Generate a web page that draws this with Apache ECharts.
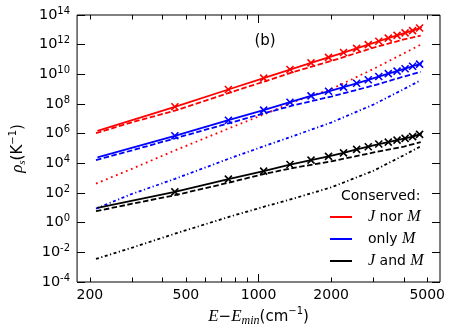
<!DOCTYPE html>
<html>
<head>
<meta charset="utf-8">
<script src="https://cdn.jsdelivr.net/npm/echarts@6/dist/echarts.min.js"></script>
<style>
html,body{margin:0;padding:0;background:#fff;}
#chart{width:452px;height:333px;}
</style>
</head>
<body>
<div id="chart"></div>
<script>
// E - Emin (cm^-1) where the solid curves are drawn, ends + the x marks
var eSolid = [215, 450, 750, 1050, 1350, 1650, 1950, 2250, 2550, 2850, 3150, 3450, 3750, 4050, 4350, 4650, 4750];
var redSolid = [1.55e6, 6.5e7, 9.5e8, 5.5e9, 2.1e10, 5.9e10, 1.4e11, 2.95e11, 5.6e11, 1.0e12, 1.7e12, 2.75e12, 4.2e12, 6.2e12, 8.9e12, 1.32e13, 1.5e13];
var blueSolid = [2.5e4, 7.2e5, 8.1e6, 3.9e7, 1.32e8, 3.55e8, 7.2e8, 1.38e9, 2.5e9, 4.3e9, 7.1e9, 1.12e10, 1.66e10, 2.4e10, 3.5e10, 4.9e10, 5.5e10];
var blackSolid = [9.8, 120, 870, 3.0e3, 8.3e3, 1.66e4, 2.95e4, 5.1e4, 8.7e4, 1.32e5, 2.0e5, 2.7e5, 3.7e5, 4.8e5, 6.3e5, 8.9e5, 1.0e6];

// dashed and dash-dot curves
var eCurve = [212, 300, 450, 750, 1050, 1400, 2000, 3000, 4000, 4700];
var redDashed = [1.07e6, 6.0e6, 3.55e7, 5.5e8, 3.16e9, 1.48e10, 7.9e10, 6.3e11, 2.24e12, 4.0e12];
var blueDashed = [1.66e4, 7.6e4, 4.8e5, 5.0e6, 2.3e7, 8.3e7, 3.16e8, 1.78e9, 7.1e9, 1.48e10];
var blackDashed = [5.9, 19, 71, 490, 1.9e3, 5.0e3, 1.35e4, 5.4e4, 1.35e5, 2.7e5];
var redDotted = [430, 4.4e3, 7.4e4, 2.2e6, 1.95e7, 1.4e8, 1.0e9, 2.35e10, 2.6e11, 1.0e12];
var blueDotted = [8.9, 89, 890, 2.0e4, 1.4e5, 7.1e5, 5.6e6, 9.3e7, 1.0e9, 4.0e9];
var blackDotted = [3.6e-3, 2.1e-2, 0.18, 2.4, 11.7, 43, 240, 3.2e3, 3.5e4, 1.4e5];

var xLabels = [200, 500, 1000, 2000, 5000];
var xMinorTicks = [200, 300, 400, 500, 600, 700, 800, 900, 2000, 3000, 4000, 5000];
var xMajorTicks = [1000];
var xRange = [177, 5650];
var yRange = [1e-4, 1e14];
var legendNames = ['J nor M', 'only M', 'J and M'];

var lg = Math.log10;
var crossPath = 'path://M0,0L10,10M10,0L0,10';
var sans = 'DejaVu Sans';
var serif = 'Liberation Serif';

function solidSeries(name, color, vals){
	return {
		name: name,
		type: 'line',
		data: eSolid.map(function(e, i){
			var end = (i == 0 || i == eSolid.length - 1);
			return {value: [lg(e), vals[i]], symbol: end ? 'none' : crossPath};
		}),
		symbolSize: 7,
		showSymbol: true,
		lineStyle: {color: color, width: 1.8},
		itemStyle: {color: color, borderColor: color, borderWidth: 1.6},
		emphasis: {disabled: true},
		z: 4
	};
}
function curveSeries(color, vals, dash){
	return {
		type: 'line',
		data: eCurve.map(function(e, i){ return [lg(e), vals[i]]; }),
		showSymbol: false,
		symbol: 'none',
		lineStyle: {color: color, width: 1.8, type: dash},
		emphasis: {disabled: true},
		z: 3
	};
}

var dashed = [5.5, 2.5];
var dashDot = [3, 2.5, 1.2, 2.5];
var dotted = [1.8, 3.6];

function xAxisOf(pos, ticks, len, labels){
	return {
		type: 'value',
		position: pos,
		min: lg(xRange[0]),
		max: lg(xRange[1]),
		axisLine: {show: false},
		splitLine: {show: false},
		axisTick: {show: true, inside: true, length: len, customValues: ticks.map(lg), lineStyle: {color: '#000', width: 1}},
		axisLabel: labels ? {
			show: true,
			customValues: labels.map(lg),
			margin: 6,
			color: '#000',
			fontFamily: sans,
			fontSize: 14,
			formatter: function(v){ return String(Math.round(Math.pow(10, v))); }
		} : {show: false}
	};
}
function yAxisOf(pos, labels){
	return {
		type: 'log',
		logBase: 10,
		position: pos,
		min: yRange[0],
		max: yRange[1],
		interval: 2,
		axisLine: {show: false},
		splitLine: {show: false},
		minorTick: {show: false},
		axisTick: {show: true, inside: true, length: 8, lineStyle: {color: '#000', width: 1}},
		axisLabel: labels ? {
			show: true,
			margin: 7,
			formatter: function(v){
				var n = Math.round(lg(v));
				return '{b|10}{s|' + n + '}';
			},
			rich: {
				b: {fontFamily: sans, fontSize: 14.5, lineHeight: 18, color: '#000'},
				s: {fontFamily: sans, fontSize: 10, lineHeight: 10, verticalAlign: 'top', color: '#000'}
			}
		} : {show: false}
	};
}

var chart = echarts.init(document.getElementById('chart'), null, {renderer: 'canvas'});

var yMain = yAxisOf('left', true);
yMain.name = '{i|ρ}{sub|s}(K{sup|−1})';
yMain.nameLocation = 'middle';
yMain.nameRotate = 90;
yMain.nameGap = 43;
yMain.nameTextStyle = {
	fontFamily: sans, fontSize: 15, color: '#000', lineHeight: 20,
	rich: {
		i: {fontFamily: serif, fontStyle: 'italic', fontSize: 17, lineHeight: 20, color: '#000'},
		sub: {fontFamily: serif, fontStyle: 'italic', fontSize: 11, lineHeight: 11, verticalAlign: 'bottom', color: '#000'},
		sup: {fontFamily: sans, fontSize: 10, lineHeight: 10, verticalAlign: 'top', color: '#000'}
	}
};

var xMain = xAxisOf('bottom', xMinorTicks, 4.5, xLabels);
xMain.name = '{i|E}−{i|E}{sub|min}(cm{sup|−1})';
xMain.nameLocation = 'middle';
xMain.nameGap = 24;
xMain.nameTextStyle = {
	fontFamily: sans, fontSize: 15, color: '#000', lineHeight: 20,
	rich: {
		i: {fontFamily: serif, fontStyle: 'italic', fontSize: 17, lineHeight: 20, color: '#000'},
		sub: {fontFamily: serif, fontStyle: 'italic', fontSize: 12, lineHeight: 12, verticalAlign: 'bottom', color: '#000'},
		sup: {fontFamily: sans, fontSize: 10, lineHeight: 10, verticalAlign: 'top', color: '#000'}
	}
};

var option = {
	animation: false,
	backgroundColor: '#fff',
	grid: {left: 69, right: 12, top: 15, bottom: 51, show: true, borderColor: '#000', borderWidth: 1, backgroundColor: 'transparent'},
	xAxis: [
		xMain,
		xAxisOf('bottom', xMajorTicks, 8, null),
		xAxisOf('top', xMinorTicks, 4.5, null),
		xAxisOf('top', xMajorTicks, 8, null)
	],
	yAxis: [yMain, yAxisOf('right', false)],
	legend: {
		data: legendNames,
		orient: 'vertical',
		left: 330,
		top: 208,
		padding: 0,
		itemGap: 4,
		itemWidth: 22,
		itemHeight: 2,
		icon: 'rect',
		itemStyle: {borderWidth: 0},
		selectedMode: false,
		formatter: function(name){ return name.replace(/([JM])/g, '{i|$1}'); },
		textStyle: {
			fontFamily: sans, fontSize: 14, color: '#000', lineHeight: 18, padding: [0, 0, 0, 11],
			rich: {i: {fontFamily: serif, fontStyle: 'italic', fontSize: 16, lineHeight: 18, color: '#000'}}
		}
	},
	graphic: [
		{type: 'text', x: 265, y: 41, style: {text: '(b)', font: '15px "DejaVu Sans"', fill: '#000', align: 'center', verticalAlign: 'middle'}},
		{type: 'text', x: 341, y: 196, style: {text: 'Conserved:', font: '14px "DejaVu Sans"', fill: '#000', align: 'left', verticalAlign: 'middle'}}
	],
	series: [
		curveSeries('#ff0000', redDotted, dotted),
		curveSeries('#0000ff', blueDotted, dashDot),
		curveSeries('#000000', blackDotted, dashDot),
		curveSeries('#ff0000', redDashed, dashed),
		curveSeries('#0000ff', blueDashed, dashed),
		curveSeries('#000000', blackDashed, dashed),
		solidSeries(legendNames[0], '#ff0000', redSolid),
		solidSeries(legendNames[1], '#0000ff', blueSolid),
		solidSeries(legendNames[2], '#000000', blackSolid)
	]
};
chart.setOption(option);
</script>
</body>
</html>
